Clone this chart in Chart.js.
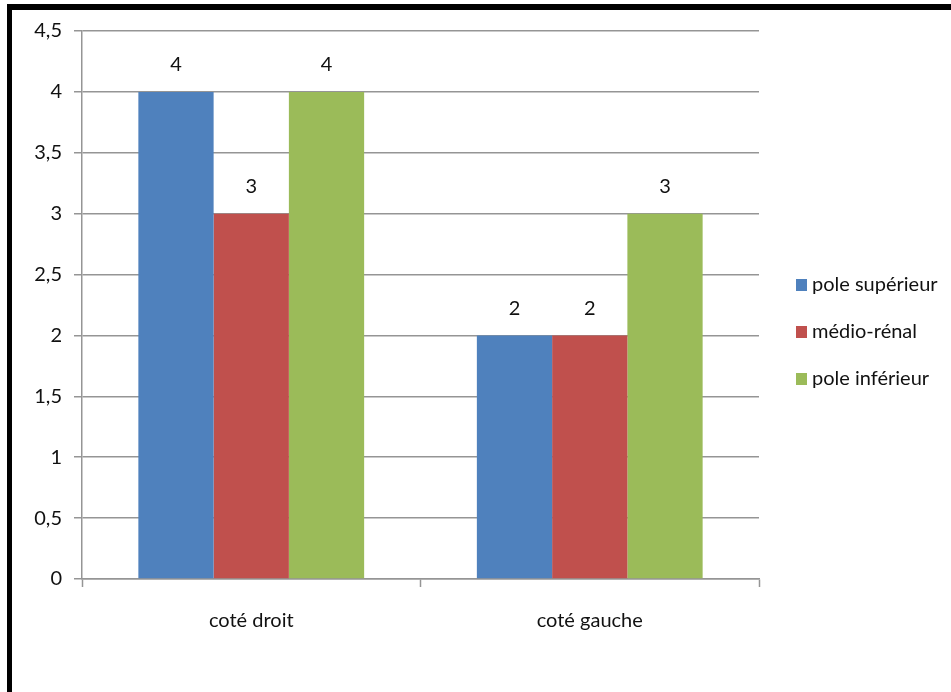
<!DOCTYPE html>
<html>
<head>
<meta charset="utf-8">
<script src="https://cdn.jsdelivr.net/npm/chart.js@4/dist/chart.umd.min.js"></script>
<style>
  html, body { margin: 0; padding: 0; background: #ffffff; }
  #wrap { position: relative; width: 951px; height: 692px; overflow: hidden; }
  #frame {
    position: absolute; left: 7px; top: 4px; width: 960px; height: 700px;
    border-top: 6px solid #000; border-left: 5px solid #000; box-sizing: border-box;
    pointer-events: none;
  }
  canvas { position: absolute; left: 0; top: 0; }
</style>
</head>
<body>
<div id="wrap">
  <canvas id="chart" width="951" height="692"></canvas>
  <div id="frame"></div>
</div>
<script>
// Categories and series
const categories = ['coté droit', 'coté gauche'];
const seriesNames = ['pole supérieur', 'médio-rénal', 'pole inférieur'];
const poleSuperieur = [4, 2];
const medioRenal = [3, 2];
const poleInferieur = [4, 3];
const seriesColors = ['#4F81BD', '#C0504D', '#9BBB59'];

// Value axis
const yMin = 0;
const yMax = 4.5;
const yStep = 0.5;

const FONT = 'Lato, "Open Sans", sans-serif';
const FONT_SIZE = 20;
const GRID = '#959595';

function frNumber(v) {
  return String(v).replace('.', ',');
}

// Value written above each bar
const barValueLabels = {
  id: 'barValueLabels',
  afterDatasetsDraw(chart) {
    const ctx = chart.ctx;
    ctx.save();
    ctx.font = FONT_SIZE + 'px ' + FONT;
    ctx.fillStyle = '#111';
    ctx.textAlign = 'center';
    ctx.textBaseline = 'middle';
    chart.data.datasets.forEach((ds, i) => {
      chart.getDatasetMeta(i).data.forEach((bar, j) => {
        ctx.fillText(frNumber(ds.data[j]), bar.x, bar.y - 27);
      });
    });
    ctx.restore();
  }
};

// Legend listed on the right of the plot
const sideLegend = {
  id: 'sideLegend',
  afterDraw(chart) {
    const ctx = chart.ctx;
    ctx.save();
    ctx.font = FONT_SIZE + 'px ' + FONT;
    ctx.textAlign = 'left';
    ctx.textBaseline = 'middle';
    const x0 = chart.chartArea.right + 37;
    const y0 = 285;
    const gap = 47;
    chart.data.datasets.forEach((ds, i) => {
      const y = y0 + i * gap;
      ctx.fillStyle = ds.backgroundColor;
      ctx.fillRect(x0, y - 6, 11, 12);
      ctx.fillStyle = '#111';
      ctx.fillText(ds.label, x0 + 16, y);
    });
    ctx.restore();
  }
};

new Chart(document.getElementById('chart'), {
  type: 'bar',
  data: {
    labels: categories,
    datasets: [
      { label: seriesNames[0], data: poleSuperieur, backgroundColor: seriesColors[0] },
      { label: seriesNames[1], data: medioRenal, backgroundColor: seriesColors[1] },
      { label: seriesNames[2], data: poleInferieur, backgroundColor: seriesColors[2] }
    ]
  },
  options: {
    responsive: false,
    animation: false,
    layout: { padding: { left: 0, top: 31, right: 192, bottom: 0 } },
    datasets: {
      bar: { categoryPercentage: 0.667, barPercentage: 1.0, borderWidth: 0 }
    },
    plugins: {
      legend: { display: false },
      tooltip: { enabled: false }
    },
    scales: {
      x: {
        grid: {
          offset: true,
          drawOnChartArea: false,
          drawTicks: true,
          tickLength: 8,
          tickColor: GRID,
          tickWidth: 1.5
        },
        border: { color: GRID, width: 1.5 },
        ticks: {
          padding: 22,
          color: '#111',
          font: { family: FONT, size: FONT_SIZE }
        },
        afterFit(scale) { scale.height = 113; }
      },
      y: {
        min: yMin,
        max: yMax,
        grid: {
          color: GRID,
          lineWidth: 1.5,
          drawTicks: true,
          tickLength: 8,
          tickColor: GRID
        },
        border: { color: GRID, width: 1.5 },
        ticks: {
          stepSize: yStep,
          padding: 12,
          color: '#111',
          font: { family: FONT, size: FONT_SIZE },
          callback: (v) => frNumber(v)
        },
        afterFit(scale) { scale.width = 82; }
      }
    }
  },
  plugins: [barValueLabels, sideLegend]
});
</script>
</body>
</html>
